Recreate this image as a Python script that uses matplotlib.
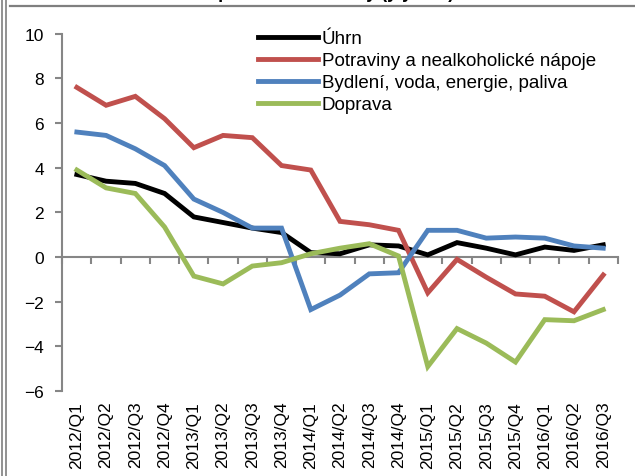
import matplotlib
matplotlib.use("Agg")
import matplotlib.pyplot as plt
from matplotlib.lines import Line2D

plt.rcParams['font.family'] = ['Liberation Sans', 'DejaVu Sans']

# --- Données (y/y v %) ---
quarters = ["2012/Q1", "2012/Q2", "2012/Q3", "2012/Q4",
            "2013/Q1", "2013/Q2", "2013/Q3", "2013/Q4",
            "2014/Q1", "2014/Q2", "2014/Q3", "2014/Q4",
            "2015/Q1", "2015/Q2", "2015/Q3", "2015/Q4",
            "2016/Q1", "2016/Q2", "2016/Q3"]
uhrn = [3.7, 3.4, 3.3, 2.85, 1.8, 1.55, 1.3, 1.1, 0.2, 0.15, 0.55, 0.5,
        0.1, 0.65, 0.4, 0.1, 0.45, 0.3, 0.55]
potraviny = [7.6, 6.8, 7.2, 6.2, 4.9, 5.45, 5.35, 4.1, 3.9, 1.6, 1.45, 1.2,
             -1.6, -0.1, -0.9, -1.65, -1.75, -2.45, -0.8]
bydleni = [5.6, 5.45, 4.85, 4.1, 2.6, 2.0, 1.3, 1.3, -2.35, -1.7, -0.75, -0.7,
           1.2, 1.2, 0.85, 0.9, 0.85, 0.5, 0.4]
doprava = [3.9, 3.1, 2.85, 1.35, -0.85, -1.2, -0.4, -0.25, 0.15, 0.4, 0.6, 0.05,
           -4.9, -3.2, -3.85, -4.7, -2.8, -2.85, -2.35]

series = [
    ("Úhrn", uhrn, "#000000"),
    ("Potraviny a nealkoholické nápoje", potraviny, "#C0504D"),
    ("Bydlení, voda, energie, paliva", bydleni, "#4F81BD"),
    ("Doprava", doprava, "#9BBB59"),
]

grey = "#868686"
x = list(range(len(quarters)))

fig = plt.figure(figsize=(6.35, 4.77), dpi=100)
ax = fig.add_axes([0.098, 0.178, 0.875, 0.749])

for label, vals, color in series:
    ax.plot(x, vals, color=color, lw=3.5, label=label, solid_joinstyle='miter')

ax.set_xlim(-0.5, len(quarters) - 0.5)
ax.set_ylim(-6, 10)
ax.set_yticks(range(-6, 11, 2))

# --- Axes ---
for s in ["top", "right", "bottom"]:
    ax.spines[s].set_visible(False)
ax.spines["left"].set_color(grey)
ax.spines["left"].set_linewidth(1.5)
ax.tick_params(axis="y", direction="out", length=5, width=1.5, color=grey,
               labelsize=12.5, pad=8)
ax.set_xticks(x)
ax.set_xticklabels(quarters, rotation=90, fontsize=12.5)
ax.tick_params(axis="x", length=0, pad=7)

# axe horizontal à y=0 avec graduations entre les catégories
sec = ax.secondary_xaxis(6 / 16)
sec.spines["bottom"].set_color(grey)
sec.spines["bottom"].set_linewidth(1.5)
sec.set_xticks([i - 0.5 for i in range(len(quarters) + 1)])
sec.tick_params(axis="x", direction="out", length=5, width=1.5, color=grey,
                labelbottom=False)

leg = ax.legend(loc="upper left", bbox_to_anchor=(0.352, 1.01), frameon=False,
                fontsize=13.5, handlelength=3.2, handletextpad=0.2,
                labelspacing=0.26, borderpad=0, borderaxespad=0)

# --- Titre (coupé en haut) ---
fig.text(0.52, 1.0 + 1.5 / 477, "Spotřebitelské ceny (y/y v %)", ha="center",
         va="baseline", fontsize=13, fontweight="bold")

# --- Cadre ---
W, H = 635, 477
def fline(xs, ys, lw):
    fig.add_artist(Line2D([v / W for v in xs], [1 - v / H for v in ys],
                          color="#7f7f7f", lw=lw, transform=fig.transFigure))
fline([10, 635], [7, 7], 1.6)
fline([1.5, 1.5], [0, 477], 1.2)
fline([6, 6], [0, 477], 1.2)

fig.savefig("out.png", dpi=100)
plt.close(fig)
